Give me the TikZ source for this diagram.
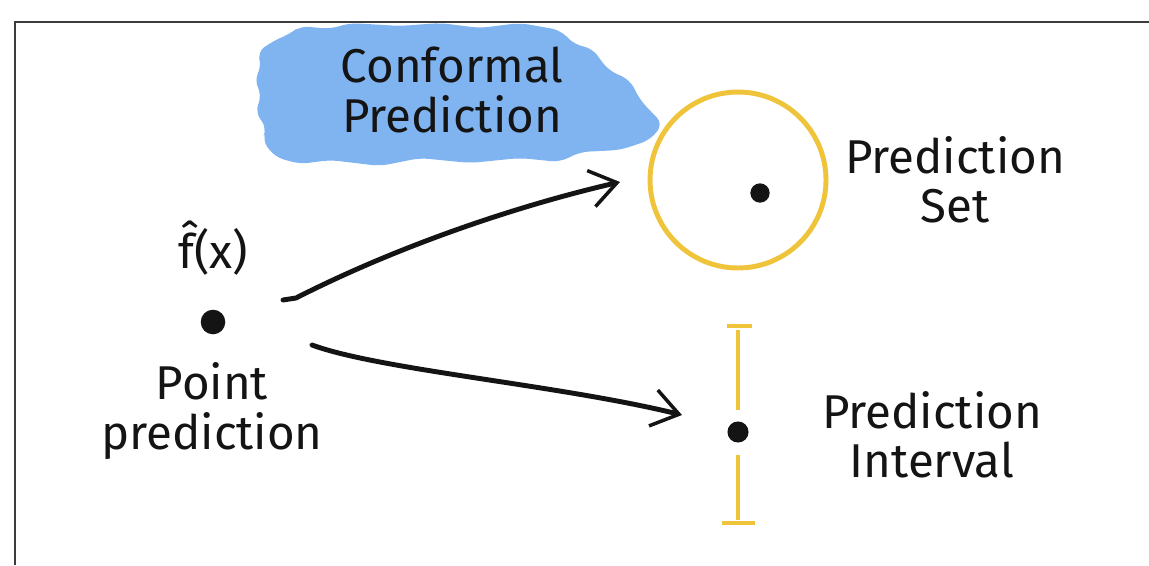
\documentclass[tikz,border=0pt]{standalone}
\usepackage{fontspec}
\setmainfont{Fira Sans}
\usetikzlibrary{arrows.meta}
\definecolor{skyblob}{RGB}{128,180,240}
\definecolor{goldline}{RGB}{240,196,58}
\definecolor{inkblack}{RGB}{20,20,20}
\definecolor{framegray}{RGB}{60,60,60}
\tikzset{
  lbl/.style={font=\fontsize{27}{28}\selectfont, text=inkblack, align=center, inner sep=0pt},
  blot/.style={circle, fill=inkblack, inner sep=0pt, minimum size=#1},
  arr/.style={line width=2.8pt, draw=inkblack, line cap=round,
    -{Straight Barb[length=15pt,width=21pt,line width=2pt]}},
  gold/.style={draw=goldline, line width=2.8pt}
}
\begin{document}
\begin{tikzpicture}[x=0.02cm,y=-0.02cm]
    \useasboundingbox[fill=white] (0,0) rectangle (1149,565);
    % Frame
    \draw[framegray, line width=1.2pt] (1149,22) -- (15,22) -- (15,565);
    % Blue patch behind the title
    \fill[skyblob, rounded corners=5pt] (257,52) -- (275,40) -- (290,34) -- (300,26)
        -- (330,29) -- (350,23) -- (400,26) -- (440,23) -- (480,28) -- (520,23)
        -- (560,30) -- (575,45) -- (592,48) -- (608,70) -- (630,80) -- (640,100)
        -- (663,124) -- (650,140) -- (620,150) -- (580,152) -- (560,162) -- (520,158)
        -- (470,163) -- (420,158) -- (380,166) -- (330,160) -- (300,164) -- (275,157)
        -- (262,140) -- (267,128) -- (255,112) -- (262,95) -- (254,80) -- (262,66) -- cycle;
    \node[lbl] (title) at (452,90) {Conformal\\Prediction};
    % Point prediction
    \node[lbl] (fhat) at (213,248) {\^f(x)};
    \node[blot=14pt] (pt) at (213,322) {};
    \node[lbl] (ptlbl) at (212,411) {Point\\prediction};
    % Prediction set
    \draw[gold] (738,180) circle[radius=1.76cm];
    \node[blot=11pt] (setdot) at (760,193) {};
    \node[lbl] (setlbl) at (955,180) {Prediction\\Set};
    % Prediction interval
    \node[blot=12pt] (ivdot) at (738,432) {};
    \draw[gold] (727,326) -- (752,326);
    \draw[gold] (738,330) -- (738,410);
    \draw[gold] (738,455) -- (738,520);
    \draw[gold] (722,523) -- (755,523);
    \node[lbl] (ivlbl) at (932,435) {Prediction\\Interval};
    % Arrows
    \coordinate (up0) at (283,300);
    \coordinate (up1) at (620,182);
    \coordinate (dn0) at (312,345);
    \coordinate (dn1) at (682,415);
    \draw[arr] (up0) -- (296,298) .. controls (400,245) and (520,205) .. (up1);
    \draw[arr] (dn0) .. controls (380,370) and (560,385) .. (dn1);
\end{tikzpicture}
\end{document}
